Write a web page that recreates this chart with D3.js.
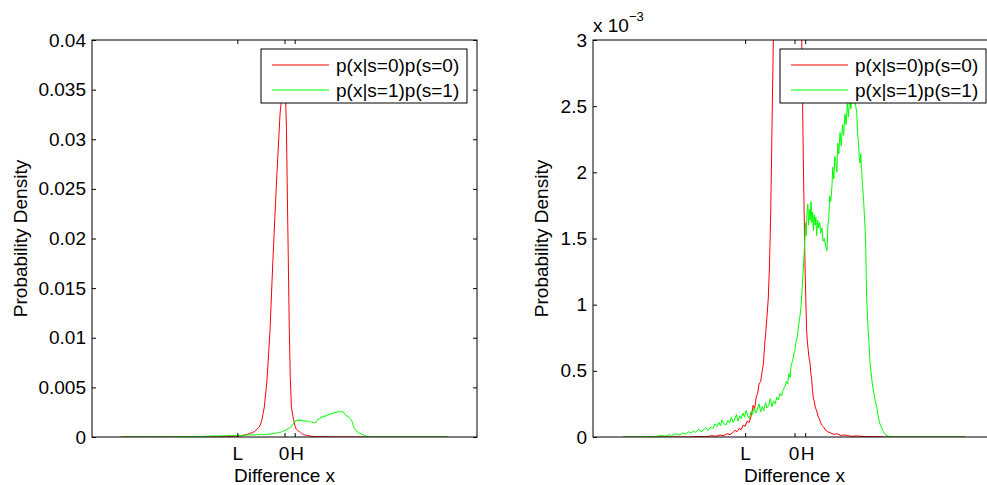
<!DOCTYPE html>
<html>
<head>
<meta charset="utf-8">
<script src="https://cdn.jsdelivr.net/npm/d3@7"></script>
<style>
  body { margin: 0; background: #fff; }
  svg text { font-family: "Liberation Sans", Arial, sans-serif; }
</style>
</head>
<body>
<script>
// Densities are stored in units of 1e-3
const redX = [-0.85, -0.52, -0.48, -0.44, -0.41, -0.39, -0.37, -0.35, -0.335, -0.32, -0.305, -0.295, -0.285,
  -0.275, -0.265, -0.255, -0.245, -0.235, -0.225, -0.215, -0.205, -0.198, -0.19, -0.183, -0.176, -0.168, -0.16,
  -0.154, -0.148, -0.142, -0.136, -0.13, -0.124, -0.118, -0.112, -0.105, -0.091, -0.075, -0.061, -0.041, -0.023,
  -0.008, 0.005, 0.01, 0.015, 0.025, 0.03, 0.036, 0.044, 0.052, 0.056, 0.06, 0.064, 0.068, 0.072, 0.077, 0.081,
  0.085, 0.089, 0.093, 0.098, 0.104, 0.11, 0.116, 0.122, 0.127, 0.135, 0.145, 0.155, 0.165, 0.18, 0.195, 0.21,
  0.23, 0.25, 0.28, 0.31, 0.35, 0.42, 0.45, 0.85];
const redY = [0, 0, 0.004, 0.002, 0.01, 0.006, 0.015, 0.01, 0.025, 0.018, 0.035, 0.05, 0.04,
  0.065, 0.055, 0.09, 0.08, 0.12, 0.11, 0.16, 0.24, 0.21, 0.3, 0.33, 0.4, 0.42, 0.5,
  0.56, 0.7, 0.8, 0.92, 1.05, 1.3, 1.7, 2.3, 3.0, 5.7, 10.8, 17.5, 25.9, 32.6,
  35.5, 35.0, 31.0, 24.2, 10.8, 6.0, 3.0, 2.07, 1.31, 1.05, 0.81, 0.72, 0.66, 0.6, 0.56, 0.48,
  0.44, 0.36, 0.3, 0.27, 0.22, 0.2, 0.16, 0.14, 0.12, 0.09, 0.075, 0.05, 0.04, 0.03, 0.02, 0.025,
  0.012, 0.015, 0.006, 0.008, 0.003, 0.002, 0, 0];

const greenX = [-0.85, -0.76, -0.72, -0.69, -0.66, -0.64, -0.62, -0.61, -0.59, -0.57, -0.555, -0.54, -0.525,
  -0.515, -0.5, -0.49, -0.475, -0.465, -0.45, -0.44, -0.43, -0.415, -0.405, -0.395, -0.385, -0.375, -0.368,
  -0.36, -0.35, -0.34, -0.33, -0.322, -0.313, -0.305, -0.296, -0.288, -0.28, -0.272, -0.265, -0.256, -0.248,
  -0.24, -0.232, -0.224, -0.216, -0.208, -0.2, -0.192, -0.184, -0.176, -0.168, -0.16, -0.152, -0.144, -0.136,
  -0.128, -0.12, -0.112, -0.104, -0.096, -0.088, -0.08, -0.072, -0.064, -0.056, -0.048, -0.04, -0.034, -0.028,
  -0.022, -0.016, -0.01, -0.004, 0.002, 0.008, 0.014, 0.02, 0.026, 0.032, 0.038, 0.044, 0.05, 0.055, 0.058,
  0.062, 0.066, 0.07, 0.074, 0.078, 0.082, 0.086, 0.09, 0.094, 0.098, 0.102, 0.106, 0.11, 0.115, 0.12, 0.125,
  0.13, 0.136, 0.142, 0.148, 0.155, 0.161, 0.166, 0.17, 0.175, 0.18, 0.186, 0.19, 0.195, 0.2, 0.205, 0.21,
  0.215, 0.22, 0.226, 0.232, 0.238, 0.244, 0.25, 0.256, 0.262, 0.268, 0.274, 0.28, 0.286, 0.292, 0.298, 0.304,
  0.309, 0.313, 0.317, 0.321, 0.325, 0.329, 0.333, 0.338, 0.342, 0.346, 0.35, 0.354, 0.358, 0.362, 0.366, 0.37,
  0.375, 0.383, 0.391, 0.4, 0.408, 0.416, 0.424, 0.432, 0.441, 0.45, 0.466, 0.5, 0.85];
const greenY = [0, 0, 0.004, 0.002, 0.012, 0.006, 0.018, 0.01, 0.025, 0.015, 0.03, 0.022, 0.04,
  0.028, 0.045, 0.035, 0.06, 0.04, 0.055, 0.07, 0.05, 0.075, 0.065, 0.1, 0.08, 0.11, 0.085,
  0.13, 0.1, 0.09, 0.125, 0.105, 0.15, 0.11, 0.135, 0.17, 0.12, 0.16, 0.14, 0.18, 0.15,
  0.2, 0.16, 0.14, 0.19, 0.17, 0.22, 0.18, 0.21, 0.25, 0.19, 0.23, 0.2, 0.26, 0.22,
  0.24, 0.29, 0.23, 0.27, 0.25, 0.3, 0.28, 0.33, 0.31, 0.36, 0.38, 0.42, 0.4, 0.48,
  0.45, 0.55, 0.57, 0.62, 0.66, 0.72, 0.76, 0.84, 0.9, 0.98, 1.12, 1.28, 1.45, 1.62, 1.52,
  1.7, 1.76, 1.6, 1.72, 1.64, 1.78, 1.62, 1.7, 1.56, 1.68, 1.6, 1.66, 1.52, 1.64, 1.58, 1.62,
  1.54, 1.58, 1.48, 1.5, 1.44, 1.41, 1.6, 1.66, 1.82, 1.78, 1.9, 2.04, 1.95, 2.12, 2.08, 2.0,
  2.22, 2.14, 2.3, 2.2, 2.36, 2.28, 2.44, 2.36, 2.52, 2.42, 2.58, 2.48, 2.62, 2.52, 2.6, 2.5,
  2.45, 2.3, 2.24, 2.12, 2.07, 2.14, 2.02, 1.9, 1.81, 1.7, 1.59, 1.4, 1.06, 0.92, 0.8, 0.7,
  0.56, 0.44, 0.355, 0.28, 0.23, 0.15, 0.1, 0.07, 0.04, 0.02, 0.005, 0, 0];

const xTickValues = [-0.245, 0, 0.053];
const xTickLabels = ['L', '0', 'H'];
const legendLabels = ['p(x|s=0)p(s=0)', 'p(x|s=1)p(s=1)'];
const colors = ['#ff0000', '#00ff00'];

const svg = d3.select('body').append('svg')
  .attr('width', 987)
  .attr('height', 485);

const red = redX.map((x, i) => ({ x: x, y: redY[i] }));
const green = greenX.map((x, i) => ({ x: x, y: greenY[i] }));

function drawPanel(p) {
  const w = p.right - p.left;
  const h = p.bottom - p.top;
  const g = svg.append('g').attr('transform', 'translate(' + p.left + ',' + p.top + ')');

  const x = d3.scaleLinear().domain([-1, 1]).range([0, w]);
  const y = d3.scaleLinear().domain([0, p.yMax]).range([h, 0]);

  const clipId = 'clip' + p.id;
  g.append('clipPath').attr('id', clipId)
    .append('rect').attr('width', w).attr('height', h);

  const line = d3.line().x(d => x(d.x)).y(d => y(d.y));

  // curves
  [red, green].forEach(function (series, i) {
    g.append('path')
      .datum(series)
      .attr('clip-path', 'url(#' + clipId + ')')
      .attr('d', line)
      .attr('fill', 'none')
      .attr('stroke', colors[i])
      .attr('stroke-width', 1);
  });

  // axes, ticks pointing inward like matlab
  const fontSize = '19px';
  const bottomAxis = g.append('g').attr('transform', 'translate(0,' + h + ')')
    .call(d3.axisBottom(x).tickValues(xTickValues).tickFormat((d, i) => xTickLabels[i])
      .tickSizeInner(-4).tickSizeOuter(0).tickPadding(8));
  g.append('g')
    .call(d3.axisTop(x).tickValues(xTickValues).tickFormat('').tickSizeInner(-4).tickSizeOuter(0));
  const leftAxis = g.append('g')
    .call(d3.axisLeft(y).tickValues(p.yTicks).tickFormat(p.yFormat)
      .tickSizeInner(-4).tickSizeOuter(0).tickPadding(6));
  g.append('g').attr('transform', 'translate(' + w + ',0)')
    .call(d3.axisRight(y).tickValues(p.yTicks).tickFormat('').tickSizeInner(-4).tickSizeOuter(0));

  g.selectAll('.domain').remove();
  g.selectAll('.tick line').attr('stroke', '#000');
  bottomAxis.selectAll('text').style('font-size', fontSize).attr('fill', '#000').attr('y', 10).attr('dy', '0.71em');
  // keep "0" and "H" from colliding, as tight as in the original
  bottomAxis.selectAll('text').filter((d, i) => i === 1).attr('dx', -1);
  bottomAxis.selectAll('text').filter((d, i) => i === 2).attr('dx', 2);
  leftAxis.selectAll('text').style('font-size', fontSize).attr('fill', '#000');

  // box
  g.append('rect')
    .attr('width', w).attr('height', h)
    .attr('fill', 'none').attr('stroke', '#000').attr('stroke-width', 1);

  // axis labels
  g.append('text')
    .attr('x', x(0)).attr('y', h + 45)
    .attr('text-anchor', 'middle')
    .style('font-size', fontSize)
    .text('Difference x');
  svg.append('text')
    .attr('transform', 'translate(' + p.yLabelX + ',' + (p.top + h / 2) + ') rotate(-90)')
    .attr('text-anchor', 'middle')
    .style('font-size', fontSize)
    .text('Probability Density');

  // legend
  const lw = 206, lh = 54;
  const leg = g.append('g').attr('transform', 'translate(' + (p.legendRight - p.left - lw) + ',9)');
  leg.append('rect').attr('width', lw).attr('height', lh)
    .attr('fill', '#fff').attr('stroke', '#000').attr('stroke-width', 1);
  legendLabels.forEach(function (label, i) {
    const ly = 16 + i * 25;
    leg.append('line')
      .attr('x1', 11).attr('x2', 68).attr('y1', ly).attr('y2', ly)
      .attr('stroke', colors[i]).attr('stroke-width', 1);
    leg.append('text')
      .attr('x', 75).attr('y', ly + 7)
      .style('font-size', fontSize)
      .text(label);
  });

  return g;
}

drawPanel({
  id: 'a', left: 92, right: 477, top: 40, bottom: 437,
  yMax: 40, yTicks: d3.range(0, 41, 5), yFormat: d => d / 1000,
  yLabelX: 27, legendRight: 467
});

drawPanel({
  id: 'b', left: 593, right: 996, top: 40, bottom: 437,
  yMax: 3, yTicks: d3.range(0, 3.01, 0.5), yFormat: d => d,
  yLabelX: 548, legendRight: 986
});

// exponent label of the right panel
const expo = svg.append('text').attr('x', 593).attr('y', 32).style('font-size', '19px');
expo.append('tspan').text('x 10');
expo.append('tspan').attr('dy', -11).style('font-size', '13px').text('\u22123');
</script>
</body>
</html>
